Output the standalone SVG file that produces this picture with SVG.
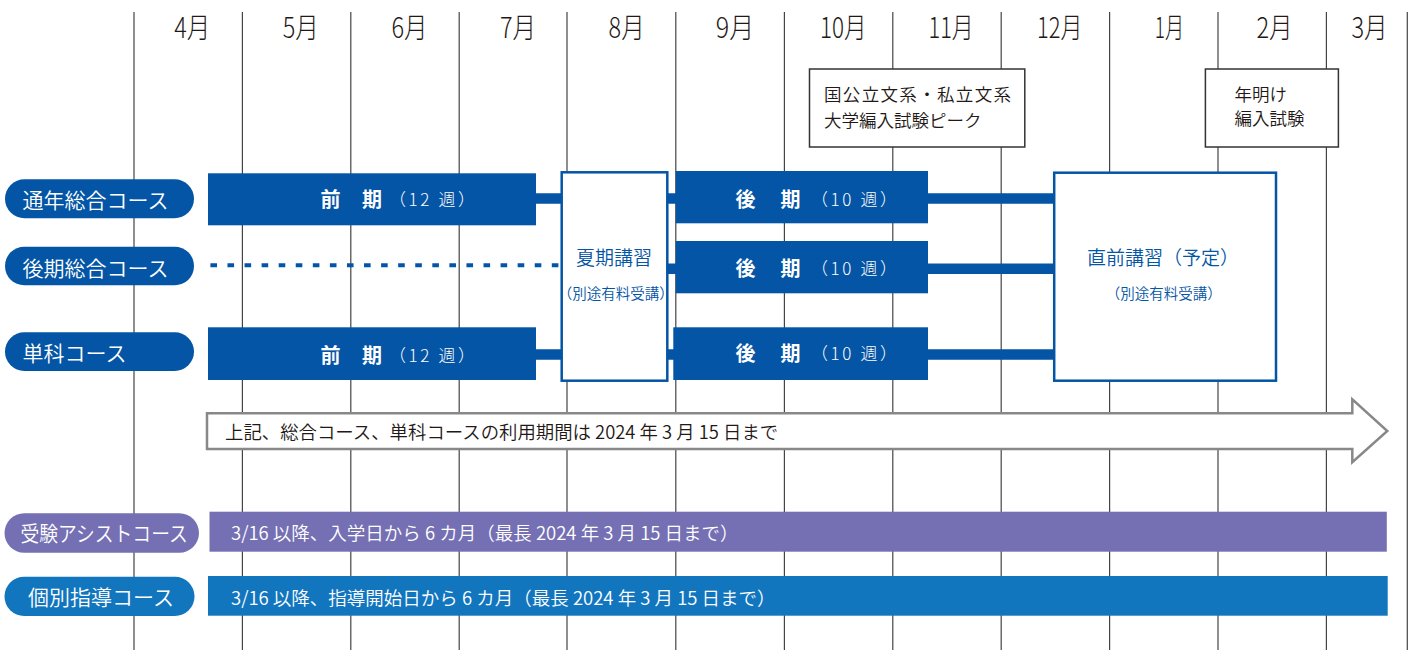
<svg xmlns="http://www.w3.org/2000/svg" width="1418" height="650" viewBox="0 0 1418 650">
<style>
text{font-family:"Noto Sans CJK JP","Noto Sans",sans-serif;font-weight:350}
.grid{stroke:#444;stroke-width:1.2;fill:none}
.month{font-size:28px;fill:#231815;font-weight:300}
.exam{fill:#fff;stroke:#333;stroke-width:1.5}
.examt{font-size:17.5px;fill:#231815}
.pillb{fill:#0455A5}
.pillt{font-size:21px;fill:#fff}
.bar{fill:#0455A5}
.bt{font-size:20px;font-weight:700;fill:#fff}
.bs{font-size:17px;font-weight:300;fill:#fff}
.conn{stroke:#0455A5;stroke-width:10.5;fill:none}
.dash{stroke:#0455A5;stroke-width:4;stroke-dasharray:6.6 10.47;fill:none}
.box{fill:#fff;stroke:#0455A5;stroke-width:2.5}
.boxt{font-size:19px;fill:#0455A5;text-anchor:middle}
.boxs{font-size:14.5px;fill:#0455A5;text-anchor:middle}
.arrow{fill:#fff;stroke:#888;stroke-width:2.5}
.at{font-size:18.4px;fill:#231815}
.lt{font-size:18.5px;fill:#fff}
</style>
<g id="grid">
<line class="grid" x1="134" y1="12" x2="134" y2="650"/>
<line class="grid" x1="242.4" y1="12" x2="242.4" y2="650"/>
<line class="grid" x1="350.8" y1="12" x2="350.8" y2="650"/>
<line class="grid" x1="459.2" y1="12" x2="459.2" y2="650"/>
<line class="grid" x1="567" y1="12" x2="567" y2="650"/>
<line class="grid" x1="675.8" y1="12" x2="675.8" y2="650"/>
<line class="grid" x1="784.4" y1="12" x2="784.4" y2="650"/>
<line class="grid" x1="892.8" y1="12" x2="892.8" y2="650"/>
<line class="grid" x1="1001.2" y1="12" x2="1001.2" y2="650"/>
<line class="grid" x1="1109.6" y1="12" x2="1109.6" y2="650"/>
<line class="grid" x1="1218" y1="12" x2="1218" y2="650"/>
<line class="grid" x1="1326.4" y1="12" x2="1326.4" y2="650"/>
<line class="grid" x1="1407.3" y1="12" x2="1407.3" y2="650"/>
</g>
<g id="months">
<text class="month" x="174.2" y="38" textLength="36" lengthAdjust="spacingAndGlyphs">4月</text>
<text class="month" x="282.8" y="38" textLength="36" lengthAdjust="spacingAndGlyphs">5月</text>
<text class="month" x="391.4" y="38" textLength="36" lengthAdjust="spacingAndGlyphs">6月</text>
<text class="month" x="500" y="38" textLength="36" lengthAdjust="spacingAndGlyphs">7月</text>
<text class="month" x="608.6" y="38" textLength="36" lengthAdjust="spacingAndGlyphs">8月</text>
<text class="month" x="715.8" y="38" textLength="38.4" lengthAdjust="spacingAndGlyphs">9月</text>
<text class="month" x="819.9" y="38" textLength="46.6" lengthAdjust="spacingAndGlyphs">10月</text>
<text class="month" x="928.5" y="38" textLength="45.2" lengthAdjust="spacingAndGlyphs">11月</text>
<text class="month" x="1037" y="38" textLength="45.3" lengthAdjust="spacingAndGlyphs">12月</text>
<text class="month" x="1154.7" y="38" textLength="29.3" lengthAdjust="spacingAndGlyphs">1月</text>
<text class="month" x="1256.5" y="38" textLength="36.2" lengthAdjust="spacingAndGlyphs">2月</text>
<text class="month" x="1351.5" y="38" textLength="36.2" lengthAdjust="spacingAndGlyphs">3月</text>
</g>
<g id="exam-peak">
<rect class="exam" x="809.5" y="69" width="215.3" height="78"/>
<text class="examt" x="824" y="100.5" textLength="187" lengthAdjust="spacing">国公立文系・私立文系</text>
<text class="examt" x="824" y="126.5">大学編入試験ピーク</text>
</g>
<g id="exam-newyear">
<rect class="exam" x="1205.4" y="69" width="133" height="78"/>
<text class="examt" x="1234.5" y="100.5">年明け</text>
<text class="examt" x="1234.5" y="125">編入試験</text>
</g>
<g id="connectors">
<line class="conn" x1="536" y1="198.5" x2="1055" y2="198.5"/>
<line class="conn" x1="667" y1="268.7" x2="1055" y2="268.7"/>
<line class="conn" x1="536" y1="354.4" x2="1055" y2="354.4"/>
<line class="dash" x1="210.4" y1="265.3" x2="558.5" y2="265.3"/>
</g>
<g id="course-tsunen">
<rect class="pillb" x="5" y="179.3" width="189" height="39" rx="19.5"/>
<text class="pillt" x="22.6" y="208">通年総合コース</text>
</g>
<g id="course-kouki">
<rect class="pillb" x="5" y="246.7" width="189" height="38.6" rx="19.3"/>
<text class="pillt" x="22.6" y="275.5">後期総合コース</text>
</g>
<g id="course-tanka">
<rect class="pillb" x="5" y="332.3" width="189" height="38.7" rx="19.3"/>
<text class="pillt" x="22.6" y="360.5">単科コース</text>
</g>
<g id="zenki-1">
<rect class="bar" x="208" y="173.3" width="328" height="52"/>
<text class="bt" y="207"><tspan x="320.5">前</tspan><tspan x="362">期</tspan></text>
<text class="bs" x="389" y="206" textLength="86" lengthAdjust="spacing">（12 週）</text>
</g>
<g id="zenki-3">
<rect class="bar" x="208" y="327.3" width="328" height="52.7"/>
<text class="bt" y="362.5"><tspan x="320.5">前</tspan><tspan x="362">期</tspan></text>
<text class="bs" x="389" y="361.5" textLength="86" lengthAdjust="spacing">（12 週）</text>
</g>
<g id="kaki-koshu">
<rect class="box" x="561.7" y="172.3" width="105.6" height="208.4"/>
<text class="boxt" x="614" y="265">夏期講習</text>
<text class="boxs" x="615.8" y="299">（別途有料受講）</text>
</g>
<g id="kouki-1">
<rect class="bar" x="675.8" y="171" width="252.2" height="52.3"/>
<text class="bt" y="207"><tspan x="735.5">後</tspan><tspan x="780.5">期</tspan></text>
<text class="bs" x="811" y="206" textLength="86" lengthAdjust="spacing">（10 週）</text>
</g>
<g id="kouki-2">
<rect class="bar" x="675.8" y="241" width="252.2" height="52.3"/>
<text class="bt" y="276"><tspan x="735.5">後</tspan><tspan x="780.5">期</tspan></text>
<text class="bs" x="811" y="275" textLength="86" lengthAdjust="spacing">（10 週）</text>
</g>
<g id="kouki-3">
<rect class="bar" x="673.3" y="327.3" width="254.7" height="52.7"/>
<text class="bt" y="360.5"><tspan x="735.5">後</tspan><tspan x="780.5">期</tspan></text>
<text class="bs" x="811" y="359.5" textLength="86" lengthAdjust="spacing">（10 週）</text>
</g>
<g id="chokuzen-koshu">
<rect class="box" x="1054.2" y="172.7" width="221.8" height="208"/>
<text class="boxt" x="1163" y="265">直前講習（予定）</text>
<text class="boxs" x="1163.8" y="299">（別途有料受講）</text>
</g>
<g id="period-arrow">
<polygon class="arrow" points="207,413.3 1352.3,413.3 1352.3,399.3 1387.3,431 1352.3,462.3 1352.3,449 207,449"/>
<text class="at" x="225" y="439">上記、総合コース、単科コースの利用期間は 2024 年 3 月 15 日まで</text>
</g>
<g id="course-assist">
<rect x="4.5" y="513.3" width="194.5" height="39.4" rx="19.7" fill="#7570B3"/>
<text class="pillt" x="20.4" y="540.5" textLength="167.4" lengthAdjust="spacingAndGlyphs">受験アシストコース</text>
<rect x="209.5" y="511.7" width="1177.3" height="40" fill="#7570B3"/>
<text class="lt" x="231" y="540">3/16 以降、入学日から 6 カ月（最長 2024 年 3 月 15 日まで）</text>
</g>
<g id="course-kobetsu">
<rect x="4.5" y="576.7" width="190" height="39.3" rx="19.6" fill="#1276BF"/>
<text class="pillt" x="28" y="605">個別指導コース</text>
<rect x="208" y="576" width="1179.7" height="39.7" fill="#1276BF"/>
<text class="lt" x="231" y="604.5">3/16 以降、指導開始日から 6 カ月（最長 2024 年 3 月 15 日まで）</text>
</g>
</svg>
